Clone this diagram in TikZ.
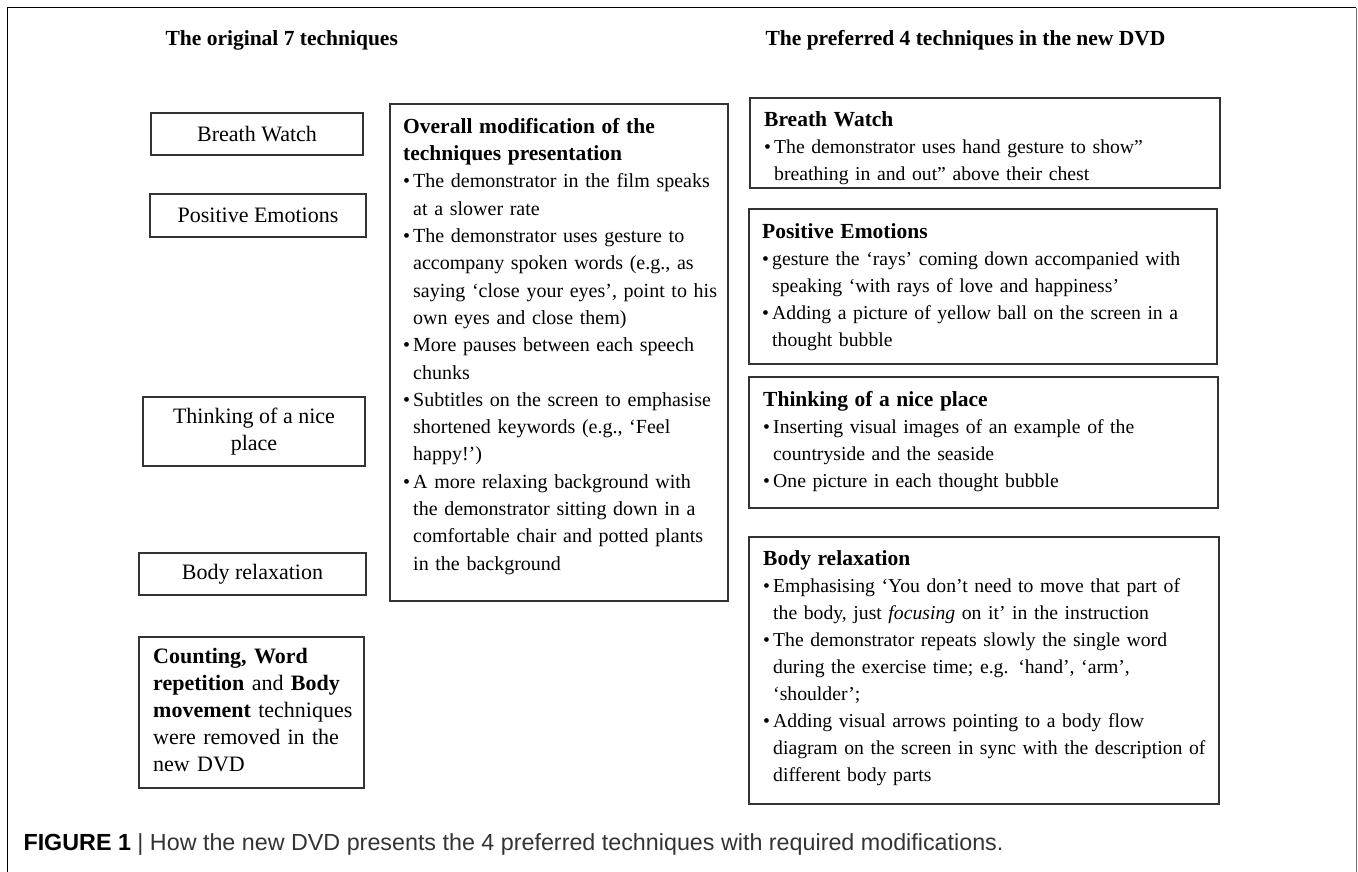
\documentclass[tikz,border=0pt]{standalone}
\usepackage{fontspec}
\setmainfont{Liberation Serif}
\newfontfamily\capfont{Liberation Sans}
\newcommand{\bodysize}{\fontsize{19.7}{27}\selectfont}
\newcommand{\headsize}{\fontsize{21.5}{27}\selectfont\bfseries}
\newcommand{\leftsize}{\fontsize{22}{27}\selectfont}
\newcommand{\bhead}[1]{\noindent{\headsize #1}}
\newcommand{\bitem}[1]{\par\hangindent=10pt\hangafter=1\noindent\makebox[10pt][l]{\textbullet}#1\par}
\newcommand{\techbox}[5]{
            \node[framebox, anchor=north west, minimum width=#4, minimum height=#5] (#1) at (#2,#3) {};
        }
\newcommand{\leftbox}[6]{
            \node[framebox, minimum width={#4-#2}, minimum height={#5-#3}, align=center, font=\leftsize]
                (#1) at ({(#2+#4)/2},{(#3+#5)/2}) {#6};
        }
\tikzset{
    framebox/.style={draw=black!80, line width=1.6, inner sep=0},
    boxtext/.style={anchor=north west, inner sep=0, align=left, font=\bodysize, text width=#1},
}

\begin{document}
\begin{tikzpicture}[x=1pt, y=-1pt]
        \useasboundingbox (0,0) rectangle (1358,872);
        \draw[line width=1] (7,872) -- (7,8) -- (1356,8);
        \draw[line width=1, black!55] (1356,8) -- (1356,872);

        \node[anchor=west, font=\headsize] (origtitle) at (162,40) {The original 7 techniques};
        \node[anchor=west, font=\headsize] (preftitle) at (762,40) {The preferred 4 techniques in the new DVD};

        \leftbox{bwL}{151}{113}{363}{155}{Breath Watch}
        \leftbox{peL}{150}{194}{366}{237}{Positive Emotions}
        \leftbox{tnL}{143}{397}{365}{466}{Thinking of a nice\\place}
        \leftbox{brL}{139}{553}{366}{595}{Body relaxation}
        \techbox{rmL}{138}{636}{225}{151}
        \node[boxtext=215, font=\leftsize] (rmLtext) at (153,648) {
            \textbf{Counting, Word}\newline
            \textbf{repetition} and \textbf{Body}\newline
            \textbf{movement} techniques\newline
            were removed in the\newline
            new DVD};

        \techbox{ovM}{389}{103}{338}{497}
        \node[boxtext=320, font=\fontsize{20}{27.3}\selectfont] (ovMtext) at (403,118) {
            \bhead{Overall modification of the\newline techniques presentation}
            \bitem{The demonstrator in the film speaks\newline at a slower rate}
            \bitem{The demonstrator uses gesture to\newline accompany spoken words (e.g., as\newline saying ‘close your eyes’, point to his\newline own eyes and close them)}
            \bitem{More pauses between each speech\newline chunks}
            \bitem{Subtitles on the screen to emphasise\newline shortened keywords (e.g., ‘Feel\newline happy!’)}
            \bitem{A more relaxing background with\newline the demonstrator sitting down in a\newline comfortable chair and potted plants\newline in the background}};

        \techbox{bwR}{749}{97}{470}{90}
        \node[boxtext=450] (bwRtext) at (764,111) {
            \bhead{Breath Watch}
            \bitem{The demonstrator uses hand gesture to show”\newline breathing in and out” above their chest}};

        \techbox{peR}{748}{208}{468}{155}
        \node[boxtext=450] (peRtext) at (762,223) {
            \bhead{Positive Emotions}
            \bitem{gesture the ‘rays’ coming down accompanied with\newline speaking ‘with rays of love and happiness’}
            \bitem{Adding a picture of yellow ball on the screen in a\newline thought bubble}};

        \techbox{tnR}{748}{376}{469}{131}
        \node[boxtext=450] (tnRtext) at (763,391) {
            \bhead{Thinking of a nice place}
            \bitem{Inserting visual images of an example of the\newline countryside and the seaside}
            \bitem{One picture in each thought bubble}};

        \techbox{brR}{748}{536}{470}{267}
        \node[boxtext=450] (brRtext) at (763,550) {
            \bhead{Body relaxation}
            \bitem{Emphasising ‘You don’t need to move that part of\newline the body, just \textit{focusing} on it’ in the instruction}
            \bitem{The demonstrator repeats slowly the single word\newline during the exercise time; e.g. ‘hand’, ‘arm’,\newline ‘shoulder’;}
            \bitem{Adding visual arrows pointing to a body flow\newline diagram on the screen in sync with the description of\newline different body parts}};

        \node[anchor=west, font=\capfont\fontsize{23.3}{27}\selectfont, text=black!80] (caption) at (20,845)
            {\textbf{\color{black}FIGURE 1} | How the new DVD presents the 4 preferred techniques with required modifications.};
\end{tikzpicture}
\end{document}
